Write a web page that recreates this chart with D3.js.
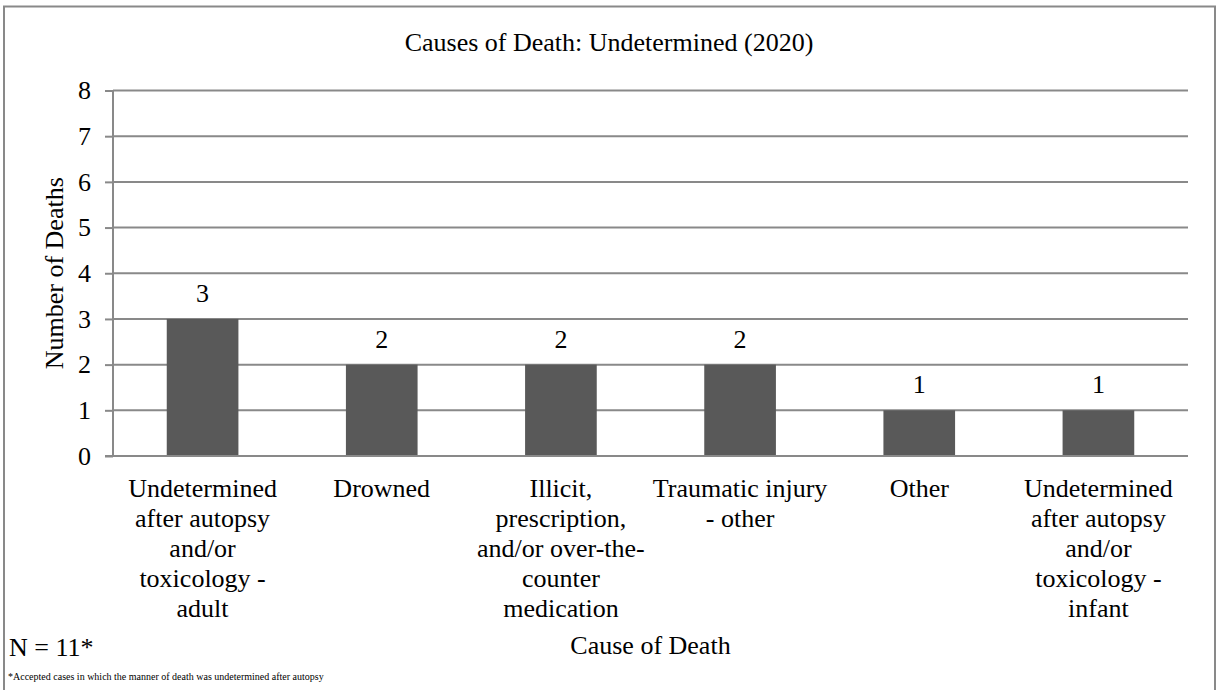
<!DOCTYPE html>
<html>
<head>
<meta charset="utf-8">
<script src="https://cdn.jsdelivr.net/npm/d3@7"></script>
<style>
  html, body { margin: 0; padding: 0; background: #fff; }
  svg { display: block; }
</style>
</head>
<body>
<svg id="chart" width="1219" height="690"></svg>
<script>
const title = "Causes of Death: Undetermined (2020)";
const categories = [
  "Undetermined after autopsy and/or toxicology - adult",
  "Drowned",
  "Illicit, prescription, and/or over-the-counter medication",
  "Traumatic injury - other",
  "Other",
  "Undetermined after autopsy and/or toxicology - infant"
];
const values = [3, 2, 2, 2, 1, 1];
const yTicks = [0, 1, 2, 3, 4, 5, 6, 7, 8];
const yTitle = "Number of Deaths";
const xTitle = "Cause of Death";
const noteN = "N = 11*";
const footnote = "*Accepted cases in which the manner of death was undetermined after autopsy";

const FONT = "'Liberation Serif', 'Times New Roman', serif";
const svg = d3.select("#chart").attr("font-family", FONT);
const m = { left: 113, right: 1188, top: 90.5, bottom: 456 };
const gridColor = "#898989";
const fs = 26;

// outer frame
svg.append("rect")
  .attr("x", 4).attr("y", 6.5).attr("width", 1211).attr("height", 700)
  .attr("fill", "none").attr("stroke", gridColor).attr("stroke-width", 2);

const x = d3.scaleBand().domain(categories).range([m.left, m.right]).paddingInner(0.6).paddingOuter(0.3);
const y = d3.scaleLinear().domain([0, 8]).range([m.bottom, m.top]);

// gridlines
svg.append("g").selectAll("line").data(yTicks.filter(d => d > 0)).join("line")
  .attr("x1", m.left).attr("x2", m.right)
  .attr("y1", d => y(d)).attr("y2", d => y(d))
  .attr("stroke", gridColor).attr("stroke-width", 2);

// y axis
const yAxis = svg.append("g").attr("transform", `translate(${m.left},0)`)
  .call(d3.axisLeft(y).tickValues(yTicks).tickFormat(d3.format("d")).tickSize(8).tickPadding(14));
yAxis.attr("font-family", FONT);
yAxis.select(".domain").attr("stroke", gridColor).attr("stroke-width", 2).attr("d", `M0,${m.top}V${m.bottom}`);
yAxis.selectAll(".tick line").attr("stroke", gridColor).attr("stroke-width", 2);
yAxis.selectAll(".tick text").attr("font-size", fs).attr("font-family", FONT).attr("fill", "#000");

// bars
svg.append("g").selectAll("rect").data(values).join("rect")
  .attr("x", (d, i) => x(categories[i]))
  .attr("width", x.bandwidth())
  .attr("y", d => y(d))
  .attr("height", d => y(0) - y(d))
  .attr("fill", "#595959");

// x axis baseline
svg.append("line").attr("x1", m.left - 8).attr("x2", m.right)
  .attr("y1", y(0)).attr("y2", y(0))
  .attr("stroke", gridColor).attr("stroke-width", 2);

// value labels
svg.append("g").selectAll("text").data(values).join("text")
  .attr("x", (d, i) => x(categories[i]) + x.bandwidth() / 2)
  .attr("y", d => y(d) - 17)
  .attr("text-anchor", "middle").attr("font-size", fs).attr("font-family", FONT)
  .text(d => d);

// category labels with wrapping
const step = x.step();
const labelG = svg.append("g").attr("font-family", FONT);
categories.forEach(cat => {
  const cx = x(cat) + x.bandwidth() / 2;
  const t = labelG.append("text").attr("x", cx).attr("y", 497)
    .attr("text-anchor", "middle").attr("font-size", fs).attr("font-family", FONT);
  const parts = [];
  cat.split(" ").forEach(word => {
    const ps = word.match(/[^-]+-?|-/g) || [word];
    ps.forEach((p, j) => parts.push({ p, sep: j === 0 ? " " : "" }));
  });
  const probe = labelG.append("text").attr("font-size", fs).attr("font-family", FONT).attr("visibility", "hidden");
  const lines = [];
  let cur = "";
  parts.forEach(({ p, sep }) => {
    const cand = cur ? cur + sep + p : p;
    probe.text(cand);
    if (cur && probe.node().getComputedTextLength() > step) {
      lines.push(cur); cur = p;
    } else cur = cand;
  });
  if (cur) lines.push(cur);
  probe.remove();
  lines.forEach((ln, i) => {
    t.append("tspan").attr("x", cx).attr("dy", i === 0 ? 0 : 30).text(ln);
  });
});

// title
svg.append("text").attr("x", 609).attr("y", 51).attr("text-anchor", "middle")
  .attr("font-size", fs).attr("font-family", FONT).text(title);

// y title
svg.append("text").attr("transform", `translate(63,${(m.top + m.bottom) / 2}) rotate(-90)`)
  .attr("text-anchor", "middle").attr("font-size", fs).attr("font-family", FONT).text(yTitle);

// x title
svg.append("text").attr("x", (m.left + m.right) / 2).attr("y", 654)
  .attr("text-anchor", "middle").attr("font-size", fs).attr("font-family", FONT).text(xTitle);

// N note and footnote
svg.append("text").attr("x", 9).attr("y", 656).attr("font-size", fs).attr("font-family", FONT).text(noteN);
svg.append("text").attr("x", 8).attr("y", 680).attr("font-size", 10).attr("font-family", FONT).text(footnote);
</script>
</body>
</html>
